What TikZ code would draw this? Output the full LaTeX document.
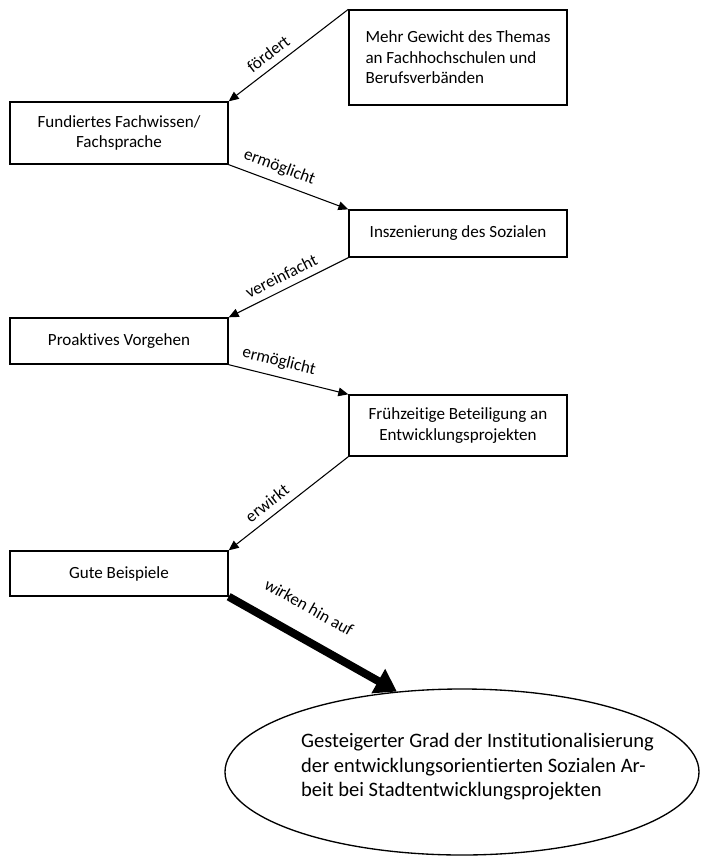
\documentclass[tikz,border=0pt]{standalone}
\usepackage{fontspec}
\setmainfont{Carlito}[Ligatures=NoCommon]
\usetikzlibrary{arrows.meta}
\usetikzlibrary{shapes.geometric}

\tikzset{
    kasten/.style={draw,line width=1pt,minimum width=163.5pt,inner sep=0pt,align=center,font=\fontsize{12.8}{15.4}\selectfont},
    pfeil/.style={line width=0.8pt,-{Triangle[length=7.5pt,width=6.5pt]}},
    dickpfeil/.style={line width=6pt,-{Triangle[length=16pt,width=20pt]}},
    beschr/.style={sloped,above=2pt,font=\fontsize{12.8}{15.4}\selectfont}
}

\begin{document}
\begin{tikzpicture}[x=0.75pt,y=-0.75pt]
                \useasboundingbox (0,0) rectangle (700,857);

                \node[kasten,minimum height=71.25pt,align=left] (gewicht) at (458,57.5)
                    {Mehr Gewicht des Themas\\an Fachhochschulen und\\Berufsverbänden};
                \node[kasten,minimum height=46.5pt] (fachwissen) at (119,133)
                    {Fundiertes Fachwissen/\\Fachsprache};
                \node[kasten,minimum height=35.25pt] (inszenierung) at (458,233.5)
                    {Inszenierung des Sozialen};
                \node[kasten,minimum height=34.5pt] (vorgehen) at (119,341)
                    {Proaktives Vorgehen};
                \node[kasten,minimum height=45.75pt] (beteiligung) at (458,425.5)
                    {Frühzeitige Beteiligung an\\Entwicklungsprojekten};
                \node[kasten,minimum height=33.75pt] (beispiele) at (119,573.5)
                    {Gute Beispiele};

                \node[ellipse,draw,line width=1pt,minimum width=355.5pt,minimum height=124.5pt,inner sep=0pt] (ziel) at (462,772) {};
                \node[align=left,font=\fontsize{15.4}{18.4}\selectfont] (zieltext) at (477.5,767)
                    {Gesteigerter Grad der Institutionalisierung\\der entwicklungsorientierten Sozialen Ar-\\beit bei Stadtentwicklungsprojekten};

                \draw[pfeil] (gewicht.north west) -- node[beschr,pos=0.6] {fördert} (fachwissen.north east);
                \draw[pfeil] (fachwissen.south east) -- node[beschr,pos=0.38] {ermöglicht} (inszenierung.north west);
                \draw[pfeil] (inszenierung.south west) -- node[beschr,pos=0.51] {vereinfacht} (vorgehen.north east);
                \draw[pfeil] (vorgehen.south east) -- node[beschr,above=0pt,pos=0.39] {ermöglicht} (beteiligung.north west);
                \draw[pfeil] (beteiligung.south west) -- node[beschr,pos=0.61] {erwirkt} (beispiele.north east);
                \draw[dickpfeil] (beispiele.south east) -- node[beschr,above=10pt,pos=0.39] {wirken hin auf} (ziel.129);
            \end{tikzpicture}
\end{document}
